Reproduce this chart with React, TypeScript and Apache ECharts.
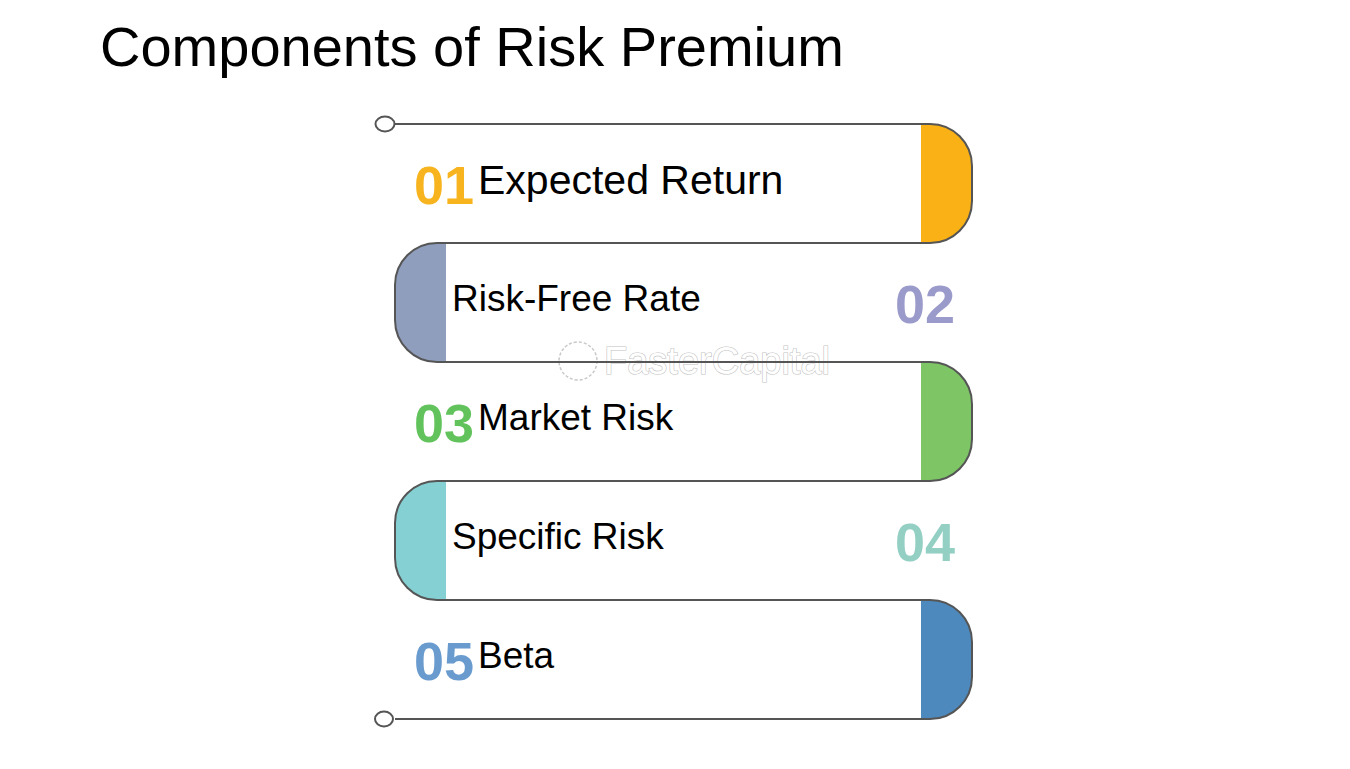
import * as echarts from "echarts";
import { useEffect, useRef } from "react";

// Steps of the infographic, top to bottom
const steps = ["Expected Return", "Risk-Free Rate", "Market Risk", "Specific Risk", "Beta"];
const stepNumbers = ["01", "02", "03", "04", "05"];
const capColors = ["#F9B116", "#8F9EBD", "#7DC565", "#84D0D3", "#4E89BD"];
const numberColors = ["#F7B41E", "#9B9BCB", "#62C35C", "#93CFC3", "#6A9BCE"];
// the first label is set a little larger in the original
const labelSizes = [41, 37, 37, 37, 37];

const LINE = "#555555";
const FONT = "'Liberation Sans', Arial, Helvetica, sans-serif";

export default function App() {
  const chartRef = useRef<HTMLDivElement>(null);

  useEffect(() => {
    if (!chartRef.current) return;

    const chart = echarts.init(chartRef.current, null, { renderer: "svg" });

    const renderItem = (params: any, api: any) => {
      const i = params.dataIndex;
      const [x0, cy] = api.coord([0, i]);
      const [x1] = api.coord([1, i]);
      const h = api.size([0, 1])[1];
      const top = cy - h / 2;
      const bot = cy + h / 2;
      const R = 42; // corner radius
      const capW = 51; // coloured cap width
      const rightSide = i % 2 === 0;
      const last = i === steps.length - 1;
      const children: any[] = [];

      // coloured cap
      children.push({
        type: "rect",
        shape: {
          x: rightSide ? x1 - capW : x0,
          y: top,
          width: capW,
          height: h,
          r: rightSide ? [0, R, R, 0] : [R, 0, 0, R],
        },
        style: { fill: capColors[i] },
      });

      // outline of the band
      let d: string;
      if (rightSide) {
        const start = i === 0 ? x0 : x0 + R;
        d = `M${start} ${top} L${x1 - R} ${top} A${R} ${R} 0 0 1 ${x1} ${top + R} L${x1} ${bot - R} A${R} ${R} 0 0 1 ${x1 - R} ${bot}`;
        if (last) d += ` L${x0} ${bot}`;
      } else {
        d = `M${x1 - R} ${top} L${x0 + R} ${top} A${R} ${R} 0 0 0 ${x0} ${top + R} L${x0} ${bot - R} A${R} ${R} 0 0 0 ${x0 + R} ${bot}`;
      }
      children.push({
        type: "path",
        shape: { pathData: d },
        style: { fill: "none", stroke: LINE, lineWidth: 2 },
      });

      // end knobs
      if (i === 0) {
        children.push({
          type: "ellipse",
          shape: { cx: x0 - 10, cy: top, rx: 9.5, ry: 7.5 },
          style: { fill: "#fff", stroke: LINE, lineWidth: 2 },
        });
      }
      if (last) {
        children.push({
          type: "ellipse",
          shape: { cx: x0 - 11, cy: bot, rx: 9, ry: 7.5 },
          style: { fill: "#fff", stroke: LINE, lineWidth: 2 },
        });
      }

      // number
      children.push({
        type: "text",
        style: {
          text: stepNumbers[i],
          x: rightSide ? x0 + 19 : x1 - 17,
          y: cy + 1,
          textAlign: rightSide ? "left" : "right",
          textVerticalAlign: "middle",
          fontSize: 54,
          fontWeight: "bold",
          fontFamily: FONT,
          fill: numberColors[i],
        },
      });

      // label
      children.push({
        type: "text",
        style: {
          text: steps[i],
          x: rightSide ? x0 + 83 : x0 + 57,
          y: cy - 4,
          textAlign: "left",
          textVerticalAlign: "middle",
          fontSize: labelSizes[i],
          fontFamily: FONT,
          fill: "#000",
        },
      });

      return { type: "group", children };
    };

    const option: echarts.EChartsOption = {
      animation: false,
      backgroundColor: "#fff",
      grid: { left: 395, right: 378, top: 124, bottom: 50 },
      xAxis: { type: "value", min: 0, max: 1, show: false },
      yAxis: { type: "category", data: steps, inverse: true, show: false },
      graphic: [
        {
          type: "text",
          x: 100,
          y: 46,
          style: {
            text: "Components of Risk Premium",
            fontSize: 56,
            fontFamily: FONT,
            fill: "#000",
            textVerticalAlign: "middle",
          },
        },
        // faint watermark
        {
          type: "circle",
          shape: { cx: 578, cy: 361, r: 19 },
          style: { fill: "none", stroke: "#c8c8c8", lineWidth: 1.5, lineDash: [3, 2] },
        },
        {
          type: "text",
          x: 604,
          y: 361,
          style: {
            text: "FasterCapital",
            fontSize: 38,
            fontFamily: FONT,
            fill: "#fff",
            stroke: "#c2c2c2",
            lineWidth: 1.2,
            textVerticalAlign: "middle",
          },
        },
      ],
      series: [
        {
          type: "custom",
          renderItem: renderItem as any,
          data: steps.map((_, i) => [0, i]),
          encode: { x: 0, y: 1 },
          clip: false,
        },
      ],
    };

    chart.setOption(option);

    const handleResize = () => chart.resize();
    window.addEventListener("resize", handleResize);

    return () => {
      window.removeEventListener("resize", handleResize);
      chart.dispose();
    };
  }, []);

  return (
    <div
      ref={chartRef}
      style={{ position: "absolute", left: 0, top: 0, width: "1350px", height: "769px" }}
    />
  );
}
